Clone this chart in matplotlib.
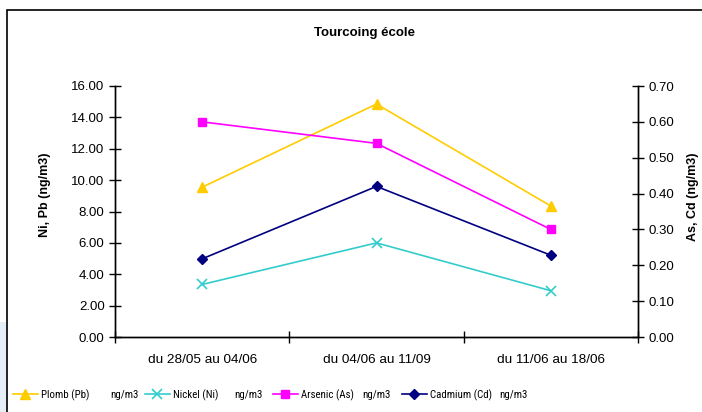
import matplotlib
matplotlib.use('Agg')
import matplotlib.pyplot as plt
from matplotlib.patches import Rectangle

plt.rcParams['font.family'] = ['Liberation Sans', 'DejaVu Sans']

periodes = ['du 28/05 au 04/06', 'du 04/06 au 11/09', 'du 11/06 au 18/06']
plomb = [9.55, 14.85, 8.35]
nickel = [3.35, 6.0, 2.95]
arsenic = [0.60, 0.54, 0.30]
cadmium = [0.218, 0.42, 0.228]

legende = ['Plomb (Pb)', 'Nickel (Ni)', 'Arsenic (As)', 'Cadmium (Cd)']
unite = 'ng/m3'
legende_x = [13, 145, 273, 402]
unite_x = [110, 234, 362, 499]
police_etroite = ['Liberation Sans Narrow', 'Arial Narrow', 'Roboto Condensed', 'Liberation Sans']

W, H = 702, 412
fig = plt.figure(figsize=(W / 100, H / 100), dpi=100)
fig.patch.set_facecolor('white')

# bande bleutee a gauche, en bas
fig.patches.append(Rectangle((0, 0), 7 / W, 90 / H, transform=fig.transFigure,
                             facecolor='#E6EEF7', edgecolor='none'))
# cadre du graphique (coupe a droite et en bas)
fig.patches.append(Rectangle((7 / W, -0.1), 1.0, (H - 10) / H + 0.1, transform=fig.transFigure,
                             fill=False, edgecolor='black', linewidth=1.2))

ax = fig.add_axes([115 / W, (H - 337) / H, (638 - 115) / W, (337 - 86) / H])
ax2 = ax.twinx()

x = list(range(len(periodes)))
l1, = ax.plot(x, plomb, color='#FFCC00', marker='^', markersize=7, linewidth=1.2)
l2, = ax.plot(x, nickel, color='#33CCCC', marker='x', markersize=7, markeredgewidth=1.2, linewidth=1.2)
l3, = ax2.plot(x, arsenic, color='#FF00FF', marker='s', markersize=6, linewidth=1.2)
l4, = ax2.plot(x, cadmium, color='#000080', marker='D', markersize=5, linewidth=1.2)

ax.set_xlim(-0.5, 2.5)
ax.set_ylim(0, 16)
ax2.set_ylim(0, 0.70)
ax.set_yticks([i * 2 for i in range(9)])
ax.set_yticklabels(['%.2f' % (i * 2) for i in range(9)])
ax2.set_yticks([i * 0.1 for i in range(8)])
ax2.set_yticklabels(['%.2f' % (i * 0.1) for i in range(8)])

ax.set_xticks(x)
ax.set_xticklabels(periodes)
ax.set_xticks([-0.5, 0.5, 1.5, 2.5], minor=True)
ax.tick_params(axis='x', which='major', length=0, labelsize=9.7, pad=12)
ax.tick_params(axis='x', which='minor', length=8, direction='inout', width=1)
ax.tick_params(axis='y', length=8, direction='inout', labelsize=9.5, width=1)
ax2.tick_params(axis='y', length=8, direction='inout', labelsize=9.5, width=1)

for a in (ax, ax2):
    for s in a.spines.values():
        s.set_linewidth(1)
ax.spines['top'].set_visible(False)
ax2.spines['top'].set_visible(False)

ax.set_ylabel('Ni, Pb (ng/m3)', fontsize=9, fontweight='bold')
ax2.set_ylabel('As, Cd (ng/m3)', fontsize=9, fontweight='bold')
ax.yaxis.set_label_coords((51 - 115) / (638 - 115), (337 - 195) / (337 - 86))
ax2.yaxis.set_label_coords((687 - 115) / (638 - 115), (337 - 197) / (337 - 86))

fig.text(364 / W, 1 - 33 / H, 'Tourcoing école', ha='center', va='center', fontsize=9.5, fontweight='bold')

for h, lab, lx, ux in zip([l1, l2, l3, l4], legende, legende_x, unite_x):
    fig.legend([h], [lab], loc='center left', bbox_to_anchor=(lx / W, 1 - 395 / H),
               frameon=False, handlelength=2.3, handletextpad=0.25,
               borderaxespad=0, borderpad=0,
               prop={'family': police_etroite, 'size': 7.8})
    fig.text(ux / W, 1 - 395 / H, unite, ha='left', va='center', family=police_etroite, fontsize=7.8)

fig.savefig('out.png', dpi=100)
